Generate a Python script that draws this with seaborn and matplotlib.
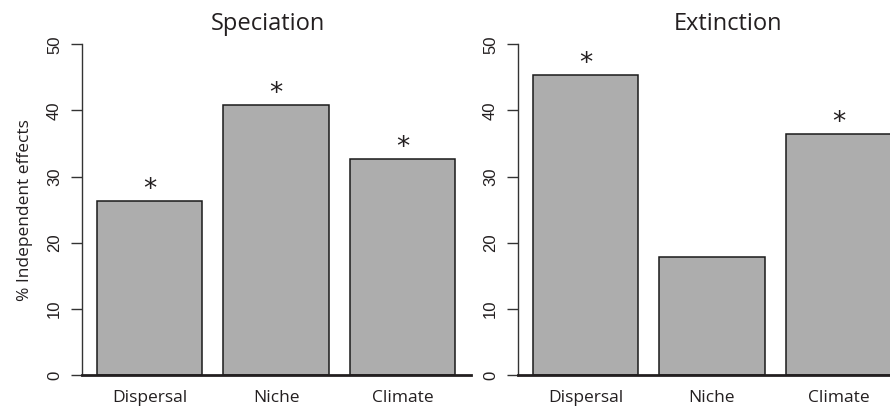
import matplotlib
matplotlib.use('Agg')
import matplotlib.pyplot as plt
import seaborn as sns
import pandas as pd

sns.set_style('white')
plt.rcParams['font.family'] = ['Open Sans', 'DejaVu Sans']

# data
drivers = ['Dispersal', 'Niche', 'Climate']
speciation = [26.3, 40.8, 32.7]
extinction = [45.3, 17.9, 36.4]
spec_signif = [True, True, True]
ext_signif = [True, False, True]
yticks = [0, 10, 20, 30, 40, 50]

txt = '#231f20'
bar_col = '#adadad'

fig = plt.figure(figsize=(8.9, 4.08), dpi=100)
ax1 = fig.add_axes([81.5 / 890, 33 / 408, 389 / 890, 330.7 / 408])
ax2 = fig.add_axes([517.5 / 890, 33 / 408, 389 / 890, 330.7 / 408])

panels = [(ax1, speciation, spec_signif, 'Speciation', 0.48),
          (ax2, extinction, ext_signif, 'Extinction', 0.54)]

for ax, vals, sig, title, tx in panels:
    df = pd.DataFrame({'driver': drivers, 'val': vals})
    sns.barplot(data=df, x='driver', y='val', color=bar_col, width=1 / 1.2,
                edgecolor='#1a1a1a', linewidth=1.1, saturation=1, ax=ax)
    ax.set_xlim(-0.537, 2.537)
    ax.set_ylim(0, 50)
    ax.set_yticks(yticks)
    ax.set_yticklabels([str(t) for t in yticks], rotation=90, va='center',
                       family='Liberation Sans', fontsize=12, color=txt)
    ax.tick_params(axis='y', length=8, width=1, color='#333333', pad=6, left=True)
    ax.tick_params(axis='x', length=0, pad=11, labelsize=12.5, labelcolor=txt)
    for s in ['top', 'right']:
        ax.spines[s].set_visible(False)
    ax.spines['left'].set_color('#333333')
    ax.spines['left'].set_linewidth(1)
    ax.spines['bottom'].set_color('#231f20')
    ax.spines['bottom'].set_linewidth(2)
    ax.set_xlabel('')
    ax.set_ylabel('')
    for i, (v, s) in enumerate(zip(vals, sig)):
        if s:
            ax.text(i, v + 0.6, '*', ha='center', va='baseline', fontsize=19,
                    family='DejaVu Sans', color=txt)
    ax.text(tx, 1.062, title, transform=ax.transAxes, ha='center',
            va='center', fontsize=17, color=txt)

ax1.set_ylabel('% Independent effects', fontsize=12.5, color=txt, labelpad=10)

fig.savefig('out.png', dpi=100)
